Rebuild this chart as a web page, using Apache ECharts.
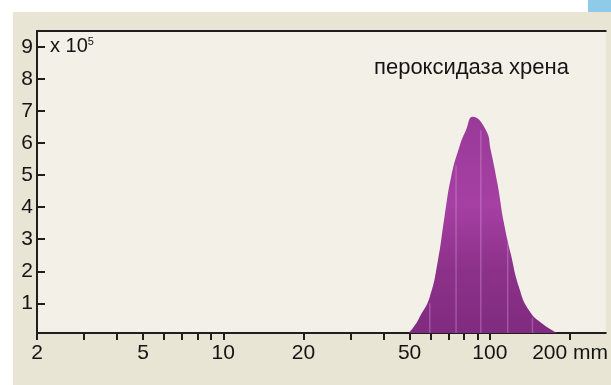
<!DOCTYPE html>
<html>
<head>
<meta charset="utf-8">
<script src="https://cdn.jsdelivr.net/npm/echarts@6/dist/echarts.min.js"></script>
<style>html,body{margin:0;padding:0;background:#fff;}#c{width:611px;height:385px;}</style>
</head>
<body>
<div id="c"></div>
<script>
// particle size (mm, log scale) and counts (x 10^5)
const sizesMm = [48.7, 52.0, 54.6, 59.5, 63.9, 67.6, 71.6, 76.9, 81.4, 86.2, 96.6, 100.8, 106.8, 113, 119.7, 128.5, 140, 157, 186];
const counts  = [0,    0.28, 0.58, 1.20, 2.35, 3.70, 4.95, 5.89, 6.41, 6.82, 6.41, 5.78, 4.74, 3.50, 2.56, 1.52, 0.79, 0.37, 0];
// faint light stripes inside the peak
const stripeMm  = [59.5, 74.7, 92.5, 116.7, 144.5];
const stripeTop = [1.0, 5.3, 6.4, 2.9, 0.55];
// axis ticks and labels
const xTickMm  = [2, 3, 4, 5, 6, 7, 8, 9, 10, 20, 30, 40, 50, 60, 70, 80, 90, 100, 200];
const xLabelMm = [2, 5, 10, 20, 50, 100, 200];
const yTicks   = [1, 2, 3, 4, 5, 6, 7, 8, 9];
const seriesName = 'пероксидаза хрена';

const L = Math.log10;
const FONT = "'Liberation Sans', Arial, sans-serif";
const xMin = L(2), xMax = 2.435;

const chart = echarts.init(document.getElementById('c'), null, {renderer: 'canvas'});
chart.setOption({
  backgroundColor: '#ffffff',
  animation: false,
  graphic: [
    {type: 'rect', z: -5, shape: {x: 13, y: 12, width: 598, height: 373}, style: {fill: '#e9e5d4'}},
    {type: 'rect', z: -5, shape: {x: 588, y: 0, width: 23, height: 12}, style: {fill: '#8ecbe9'}},
    {type: 'text', left: 50, top: 36, z: 10, style: {
      text: 'x 10{s|5}', fill: '#141414', font: "20px " + FONT,
      rich: {s: {fontSize: 11, verticalAlign: 'top', padding: [0, 0, 7, 0], fill: '#141414', fontFamily: FONT}}
    }},
    {type: 'text', left: 374, top: 57, z: 10, style: {text: seriesName, fill: '#141414', font: "22px " + FONT}}
  ],
  grid: {left: 37, right: 0, top: 31, bottom: 52, show: true, backgroundColor: '#f3f0e8', borderWidth: 0},
  xAxis: [{
    type: 'value', min: xMin, max: xMax,
    splitLine: {show: false},
    axisLine: {show: true, onZero: false, lineStyle: {color: '#1e1e1e', width: 2}},
    axisTick: {show: true, inside: false, length: 7, lineStyle: {color: '#1e1e1e', width: 2},
      customValues: xTickMm.map(L)},
    axisLabel: {show: true, margin: 10, color: '#141414', fontSize: 21, fontFamily: FONT,
      customValues: xLabelMm.map(L),
      formatter: v => { const n = Math.round(Math.pow(10, v)); return n === 200 ? n + ' mm' : String(n); }}
  }, {
    type: 'value', position: 'top', min: xMin, max: xMax,
    splitLine: {show: false}, axisTick: {show: false}, axisLabel: {show: false},
    axisLine: {show: true, onZero: false, lineStyle: {color: '#1e1e1e', width: 2}}
  }],
  yAxis: {
    type: 'value', min: 0.073, max: 9.5,
    splitLine: {show: false},
    axisLine: {show: true, onZero: false, lineStyle: {color: '#1e1e1e', width: 2}},
    axisTick: {show: true, inside: true, length: 8, lineStyle: {color: '#1e1e1e', width: 2}, customValues: yTicks},
    axisLabel: {show: true, margin: 4, color: '#141414', fontSize: 21, fontFamily: FONT, customValues: yTicks}
  },
  series: [{
    name: seriesName,
    type: 'line',
    data: sizesMm.map((m, i) => [L(m), counts[i]]),
    smooth: 0.5,
    symbol: 'none',
    clip: true,
    lineStyle: {width: 0},
    areaStyle: {
      origin: 'start', opacity: 1,
      color: new echarts.graphic.LinearGradient(0, 0, 0, 1, [
        {offset: 0, color: '#993a98'},
        {offset: 0.4, color: '#a640a4'},
        {offset: 0.7, color: '#8c3189'},
        {offset: 1, color: '#7f2b7f'}
      ])
    },
    z: 2
  }, {
    type: 'custom',
    data: stripeMm.map((m, i) => [L(m), stripeTop[i]]),
    renderItem: (params, api) => {
      const p0 = api.coord([api.value(0), 0.073]);
      const p1 = api.coord([api.value(0), api.value(1)]);
      return {type: 'line', shape: {x1: p0[0], y1: p0[1], x2: p1[0], y2: p1[1]},
        style: {stroke: 'rgba(225,160,225,0.35)', lineWidth: 1.5}};
    },
    z: 3, silent: true
  }]
});
</script>
</body>
</html>
